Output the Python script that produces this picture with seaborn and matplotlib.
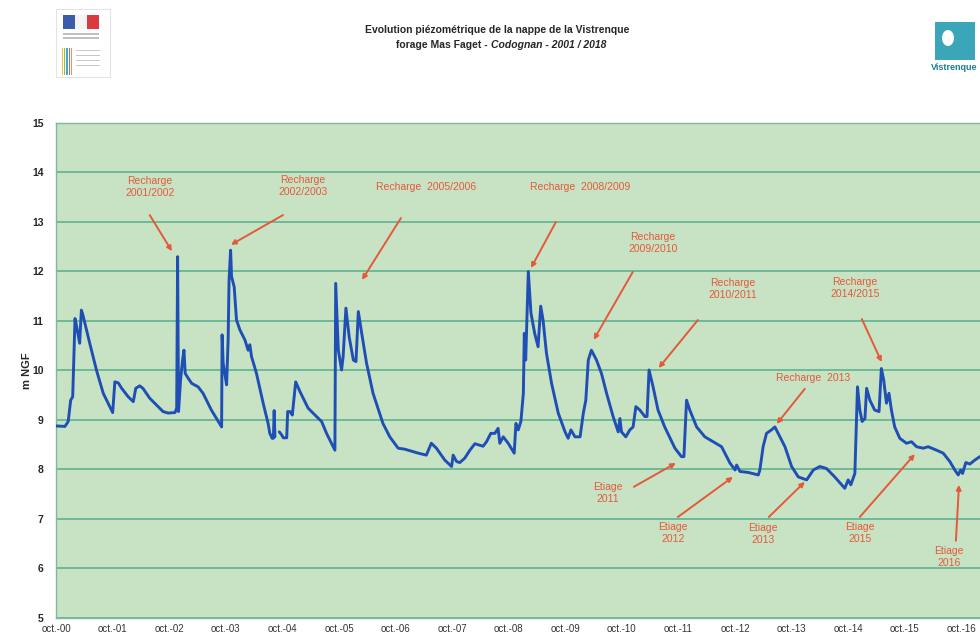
import pandas as pd
import numpy as np
import matplotlib
matplotlib.use('Agg')
import matplotlib.pyplot as plt
import matplotlib.dates as mdates
from matplotlib.ticker import FuncFormatter, FixedLocator
from matplotlib.patches import Rectangle, Ellipse
import seaborn as sns

# Niveaux piézométriques (m NGF)
dates = [
    '2000-10-01', '2000-11-28', '2000-12-19', '2001-01-04', '2001-01-17', '2001-02-01',
    '2001-02-12', '2001-03-03', '2001-03-14', '2001-03-24', '2001-05-07', '2001-06-20',
    '2001-08-02', '2001-10-02', '2001-10-16', '2001-11-07', '2001-11-29', '2002-01-10',
    '2002-02-12', '2002-02-28', '2002-03-25', '2002-04-15', '2002-05-29', '2002-08-23',
    '2002-09-25', '2002-11-08', '2002-11-19', '2002-11-25', '2002-12-01', '2002-12-14',
    '2002-12-27', '2003-01-05', '2003-01-13', '2003-02-02', '2003-02-24', '2003-04-06',
    '2003-05-08', '2003-07-01', '2003-09-05', '2003-09-08', '2003-09-15', '2003-10-07',
    '2003-10-17', '2003-10-23', '2003-11-02', '2003-11-08', '2003-11-25', '2003-12-10',
    '2004-01-01', '2004-02-02', '2004-02-23', '2004-03-05', '2004-03-16', '2004-04-17',
    '2004-05-30', '2004-07-01', '2004-07-12', '2004-07-27', '2004-08-04', '2004-08-09',
    '2004-08-14',
    '2004-09-11', '2004-09-26', '2004-10-07', '2004-10-29', '2004-11-04', '2004-11-19',
    '2004-12-04', '2004-12-26', '2005-01-23', '2005-03-16', '2005-05-09', '2005-06-11',
    '2005-07-13', '2005-09-05', '2005-09-10', '2005-09-27', '2005-10-18', '2005-10-28',
    '2005-11-15', '2005-12-06', '2006-01-02', '2006-01-19', '2006-02-03', '2006-02-25',
    '2006-03-28', '2006-05-09', '2006-07-12', '2006-08-25', '2006-10-18', '2006-11-30',
    '2007-01-02', '2007-02-25', '2007-04-18', '2007-05-20', '2007-06-22', '2007-08-15',
    '2007-09-28', '2007-10-08', '2007-10-30', '2007-11-20', '2007-12-22', '2008-01-24',
    '2008-02-25', '2008-04-18', '2008-05-10', '2008-06-07', '2008-07-03', '2008-07-24',
    '2008-08-04', '2008-08-26', '2008-09-27', '2008-11-05', '2008-11-16', '2008-12-01',
    '2008-12-18', '2009-01-03', '2009-01-09', '2009-01-18', '2009-02-04', '2009-02-21',
    '2009-03-17', '2009-04-08', '2009-04-25', '2009-05-10', '2009-06-01', '2009-07-04',
    '2009-08-16', '2009-09-29', '2009-10-19', '2009-11-06', '2009-12-02', '2010-01-04',
    '2010-01-25', '2010-02-10', '2010-02-26', '2010-03-18', '2010-03-28', '2010-04-20',
    '2010-05-22', '2010-06-24', '2010-08-05', '2010-09-07', '2010-09-18', '2010-09-28',
    '2010-10-26', '2010-11-21', '2010-12-12', '2010-12-30', '2011-01-25', '2011-02-26',
    '2011-03-12', '2011-03-25', '2011-04-20', '2011-05-22', '2011-07-04', '2011-09-08',
    '2011-10-20', '2011-11-05', '2011-11-22', '2011-12-13', '2012-01-26', '2012-03-19',
    '2012-05-12', '2012-07-05', '2012-08-28', '2012-09-30', '2012-10-10', '2012-11-01',
    '2012-12-24', '2013-02-27', '2013-03-09', '2013-03-30', '2013-04-21', '2013-05-23',
    '2013-06-14', '2013-07-05', '2013-08-18', '2013-09-30', '2013-11-12', '2014-01-05',
    '2014-02-17', '2014-03-31', '2014-05-13', '2014-07-05', '2014-09-08', '2014-09-30',
    '2014-10-17', '2014-11-12', '2014-11-29', '2014-12-14', '2014-12-29', '2015-01-16',
    '2015-01-27', '2015-02-17', '2015-03-20', '2015-04-17', '2015-05-02', '2015-05-17',
    '2015-06-04', '2015-06-20', '2015-07-06', '2015-07-27', '2015-08-29', '2015-10-11',
    '2015-11-13', '2015-12-15', '2016-01-27', '2016-02-28', '2016-04-22', '2016-06-04',
    '2016-07-17', '2016-08-18', '2016-09-09', '2016-09-25', '2016-10-07', '2016-10-28',
    '2016-11-23', '2016-12-25', '2017-01-27', '2017-03-01',
]
niveaux = [
    8.88, 8.87, 8.97, 9.40, 9.47, 11.05,
    10.88, 10.55, 11.22, 11.12, 10.55, 10.00,
    9.54, 9.15, 9.77, 9.75, 9.64, 9.47,
    9.37, 9.64, 9.69, 9.64, 9.44, 9.17,
    9.14, 9.15, 9.24, 12.30, 9.17, 9.81,
    10.21, 10.41, 9.94, 9.84, 9.74, 9.67,
    9.54, 9.20, 8.86, 10.72, 10.15, 9.71,
    10.62, 11.83, 12.43, 11.90, 11.69, 11.02,
    10.82, 10.62, 10.41, 10.52, 10.28, 9.94,
    9.34, 8.93, 8.73, 8.63, 8.63, 9.19,
    8.66,
    8.76, 8.70, 8.64, 8.64, 9.17, 9.17,
    9.10, 9.77, 9.57, 9.24, 9.07, 8.97,
    8.73, 8.39, 11.76, 10.41, 10.01, 10.28,
    11.26, 10.68, 10.21, 10.18, 11.19, 10.75,
    10.15, 9.54, 8.93, 8.66, 8.43, 8.41,
    8.38, 8.33, 8.29, 8.53, 8.43, 8.19,
    8.06, 8.29, 8.16, 8.14, 8.23, 8.39,
    8.52, 8.47, 8.56, 8.73, 8.73, 8.83,
    8.53, 8.66, 8.53, 8.33, 8.93, 8.80,
    8.97, 9.54, 10.75, 10.21, 12.00, 11.16,
    10.75, 10.48, 11.30, 11.02, 10.35, 9.74,
    9.14, 8.76, 8.63, 8.80, 8.66, 8.66,
    9.14, 9.40, 10.21, 10.41, 10.35, 10.21,
    9.94, 9.54, 9.07, 8.76, 9.03, 8.76,
    8.66, 8.80, 8.86, 9.27, 9.20, 9.07,
    9.07, 10.01, 9.67, 9.20, 8.86, 8.43,
    8.26, 8.26, 9.40, 9.20, 8.86, 8.66,
    8.56, 8.46, 8.13, 7.99, 8.09, 7.96,
    7.94, 7.89, 7.99, 8.46, 8.73, 8.80,
    8.86, 8.73, 8.46, 8.06, 7.85, 7.79,
    7.99, 8.06, 8.02, 7.85, 7.62, 7.79,
    7.69, 7.92, 9.67, 9.20, 8.97, 9.03,
    9.64, 9.40, 9.20, 9.17, 10.04, 9.81,
    9.34, 9.54, 9.20, 8.86, 8.63, 8.53,
    8.56, 8.46, 8.43, 8.46, 8.39, 8.33,
    8.16, 7.99, 7.89, 7.99, 7.92, 8.14,
    8.11, 8.19, 8.26, 8.30,
]
# lacune de mesures fin d'été 2004
debut_lacune = '2004-08-20'

# graduations visibles (octobre de chaque année)
graduations = pd.date_range('2000-10-01', '2016-10-01', freq='12MS')

# (texte, position du texte, origine de la flèche, pointe de la flèche)
annotations = [
    ('Recharge\n2001/2002', ('2002-05-29', 13.71), ('2002-05-29', 13.14), ('2002-10-19', 12.41)),
    ('Recharge\n2002/2003', ('2005-02-11', 13.73), ('2004-10-05', 13.14), ('2003-11-04', 12.54)),
    ('Recharge  2005/2006', ('2007-04-14', 13.71), ('2006-11-05', 13.08), ('2006-02-27', 11.83)),
    ('Recharge  2008/2009', ('2010-01-04', 13.71), ('2009-08-01', 13.00), ('2009-02-21', 12.07)),
    ('Recharge\n2009/2010', ('2011-04-18', 12.58), ('2010-12-10', 11.99), ('2010-04-02', 10.62)),
    ('Recharge\n2010/2011', ('2012-09-16', 11.65), ('2012-02-03', 11.02), ('2011-05-26', 10.05)),
    ('Recharge\n2014/2015', ('2014-11-12', 11.67), ('2014-12-27', 11.04), ('2015-05-04', 10.17)),
    ('Recharge  2013', ('2014-02-15', 9.85), ('2013-12-24', 9.63), ('2013-06-26', 8.92)),
    ('Etiage\n2011', ('2010-07-02', 7.53), ('2010-12-17', 7.65), ('2011-09-14', 8.13)),
    ('Etiage\n2012', ('2011-08-25', 6.72), ('2011-09-27', 7.04), ('2012-09-16', 7.85)),
    ('Etiage\n2013', ('2013-03-28', 6.70), ('2013-05-06', 7.04), ('2013-12-24', 7.75)),
    ('Etiage\n2015', ('2014-12-14', 6.72), ('2014-12-14', 7.04), ('2015-12-04', 8.31)),
    ('Etiage\n2016', ('2016-07-10', 6.23), ('2016-08-25', 6.56), ('2016-09-14', 7.69)),
]

df = pd.DataFrame({'date': pd.to_datetime(dates), 'niveau': niveaux})
df['troncon'] = np.where(df['date'] < pd.Timestamp(debut_lacune), 0, 1)

sns.set_style('white', {'axes.facecolor': '#c8e3c4'})
plt.rcParams['font.family'] = ['Liberation Sans', 'DejaVu Sans']

fig = plt.figure(figsize=(9.8, 6.35), dpi=100)
ax = fig.add_axes([0.0571, 0.0268, 1.0396, 0.7795])

sns.lineplot(data=df, x='date', y='niveau', units='troncon', estimator=None,
             color='#1f4fb5', linewidth=2.1, ax=ax, zorder=3)

ax.set_xlim(pd.Timestamp('2000-10-01'), pd.Timestamp('2018-10-01'))
ax.set_ylim(5, 15)
ax.set_yticks(range(5, 16))
ax.yaxis.grid(True, color='#5fb48e', linewidth=1.2)
ax.xaxis.grid(False)
ax.xaxis.set_major_locator(FixedLocator(mdates.date2num(graduations)))
ax.xaxis.set_major_formatter(FuncFormatter(
    lambda v, pos: 'oct.-' + mdates.num2date(v).strftime('%y')))
ax.tick_params(axis='x', labelsize=7, colors='#333333', length=3, width=0.8, pad=1)
ax.tick_params(axis='y', labelsize=7.5, length=3, width=0.8, pad=6)
for lab in ax.get_yticklabels():
    lab.set_fontweight('bold')
for sp in ax.spines.values():
    sp.set_color('#7fb7a0')
    sp.set_linewidth(1.0)
ax.set_xlabel('')
ax.set_ylabel('m NGF', fontsize=8, fontweight='bold', labelpad=0)

rouge = '#e4593a'
for texte, pos_txt, queue, pointe in annotations:
    ax.text(pd.Timestamp(pos_txt[0]), pos_txt[1], texte, ha='center', va='center',
            fontsize=7.5, color=rouge, linespacing=1.3, zorder=4)
    ax.annotate('', xy=(pd.Timestamp(pointe[0]), pointe[1]),
                xytext=(pd.Timestamp(queue[0]), queue[1]),
                arrowprops=dict(arrowstyle='-|>', color=rouge, lw=1.4,
                                mutation_scale=7, shrinkA=0, shrinkB=0),
                zorder=4)

# titre
fig.text(0.507, 0.953, 'Evolution piézométrique de la nappe de la Vistrenque',
         ha='center', va='center', fontsize=7.5, fontweight='bold')
fig.text(0.501, 0.929, 'forage Mas Faget - ', ha='right', va='center',
         fontsize=7.5, fontweight='bold')
fig.text(0.501, 0.929, 'Codognan - 2001 / 2018', ha='left', va='center',
         fontsize=7.5, fontweight='bold', style='italic')

# logos (esquisse)
W, H = 980, 635
def boite(x, y, w, h, **kw):
    fig.patches.append(Rectangle((x / W, 1 - (y + h) / H), w / W, h / H,
                                 transform=fig.transFigure, **kw))

boite(56, 9, 54, 68, facecolor='white', edgecolor='#e4e4e4', linewidth=0.8)
boite(63, 15, 12, 14, facecolor='#3b5ca8', edgecolor='none')
boite(75, 15, 12, 14, facecolor='#f4f4f4', edgecolor='none')
boite(87, 15, 12, 14, facecolor='#d9393f', edgecolor='none')
boite(63, 33, 36, 1.5, facecolor='#c0c0c0', edgecolor='none')
boite(63, 37, 36, 1.5, facecolor='#c0c0c0', edgecolor='none')
for i, c in enumerate(['#f2c530', '#89c24a', '#4aa2d8', '#9a6cc0', '#e39a3c']):
    boite(62 + 2.2 * i, 48, 1.2, 27, facecolor=c, edgecolor='none')
for j in range(4):
    boite(76, 50 + 5 * j, 24, 1.2, facecolor='#c8c8c8', edgecolor='none')

boite(935, 22, 40, 38, facecolor='#3aa6b8', edgecolor='none')
fig.patches.append(Ellipse((948 / W, 1 - 38 / H), 12 / W, 16 / H,
                           transform=fig.transFigure, facecolor='white', edgecolor='none'))
fig.text(931 / W, 1 - 68 / H, 'Vistrenque', ha='left', va='center', fontsize=6.5,
         fontweight='bold', color='#1d7f95')

fig.savefig('out.png', dpi=100)
